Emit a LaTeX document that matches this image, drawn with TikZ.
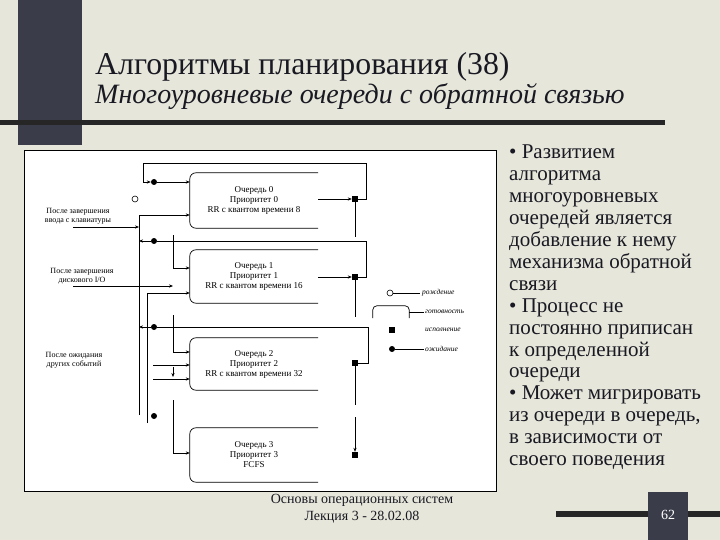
\documentclass[tikz,border=0pt]{standalone}
\usepackage{fontspec}
\setmainfont{Liberation Serif}
\newfontfamily\ttlfont{Liberation Serif}
\usetikzlibrary{arrows.meta}
\definecolor{bg}{RGB}{230,230,218}
\definecolor{barc}{RGB}{58,60,74}
\definecolor{ink}{RGB}{25,25,35}
\begin{document}
\begin{tikzpicture}[x=1pt,y=-1pt,
  ln/.style={draw=black,line width=0.7pt},
  arr/.style={ln,-{Stealth[length=4pt,width=3.2pt]}},
  sq/.style={fill=black,minimum size=6pt,inner sep=0pt},
  wdot/.style={circle,fill=black,minimum size=6pt,inner sep=0pt},
  qbox/.style={minimum width=128pt,inner sep=0pt,font=\fontsize{9}{10}\selectfont,align=center},
  qshape/.style={ln,rounded corners=6pt},
  lbl/.style={font=\fontsize{8}{9}\selectfont,align=center,inner sep=0pt},
  leg/.style={font=\itshape\fontsize{7.5}{8}\selectfont,anchor=west,inner sep=0pt},
]
\useasboundingbox (0,0) rectangle (720,540);
\fill[bg] (0,0) rectangle (720,540);
\fill[barc] (18,0) rectangle (82,145);
\fill[black!85] (0,120) rectangle (665,125);
\node[anchor=base west,font=\ttlfont\fontsize{31.8}{34}\selectfont,text=ink,inner sep=0pt] (title) at (95,75) {Алгоритмы планирования (38)};
\node[anchor=base west,font=\ttlfont\itshape\fontsize{28}{30}\selectfont,text=ink,inner sep=0pt] (sub) at (95,104) {Многоуровневые очереди с обратной связью};

% diagram frame
\draw[fill=white,line width=0.8pt] (24,150) rectangle (496,491);

% queues
\node[qbox,minimum height=55pt] (q0) at (254,200.5) {Очередь 0\\Приоритет 0\\RR с квантом времени 8};
\node[qbox,minimum height=53pt] (q1) at (254,276.5) {Очередь 1\\Приоритет 1\\RR с квантом времени 16};
\node[qbox,minimum height=52pt] (q2) at (254,364) {Очередь 2\\Приоритет 2\\RR с квантом времени 32};
\node[qbox,minimum height=54pt] (q3) at (254,455) {Очередь 3\\Приоритет 3\\FCFS};
\foreach \q in {q0,q1,q2,q3}
  \draw[qshape] (\q.north east) -- (\q.north west) -- (\q.south west) -- (\q.south east);

% execution squares and waiting dots
\node[sq] (x0) at (355,199) {};
\node[sq] (x1) at (355,277) {};
\node[sq] (x2) at (355,363) {};
\node[sq] (x3) at (355,455) {};
\node[wdot] (w0) at (154,182) {};
\node[wdot] (w1) at (154,241) {};
\node[wdot] (w2) at (154,327) {};
\node[wdot] (w3) at (154,416) {};
\node[circle,draw,line width=0.6pt,minimum size=6pt,inner sep=0pt] (born) at (135,199) {};

% labels
\node[lbl] (kb) at (78,216) {После завершения\\ввода с клавиатуры};
\node[lbl] (dk) at (82,276) {После завершения\\дискового I/O};
\node[lbl] (ot) at (74,360) {После ожидания\\других событий};

% buses
\coordinate (a0) at (139,215);
\coordinate (a1) at (139,415);
\coordinate (b0) at (147,293);
\coordinate (b1) at (147,423);
\draw[arr] (a1) -- (a0) -- (q0.west |- a0);
\draw[arr] (b1) -- (b0) -- (q1.west |- b0);
\coordinate (kbe) at (73,227);
\draw[arr] (kbe) -- (kbe -| a0);
\coordinate (dke) at (73,286);
\draw[arr] (dke) -- (173,286);

% queue 0 loop
\draw[arr] (q0.east |- x0) -- (x0.west);
\draw[ln] (x0.east) -- (366,199) -- (366,163) -- (143,163) -- (143,182);
\draw[arr] (143,182) -- (w0.west);
\draw[arr] (w0.east) -- (q0.west |- w0);
\draw[ln] (x0.south) -- (355,237);

% queue 1 loop
\draw[arr] (q1.east |- x1) -- (x1.west);
\draw[ln] (x1.east) -- (366,277) -- (366,241) -- (w1.east);
\draw[arr] (w1.west) -- (w1 -| a0);
\draw[ln] (x1.south) -- (355,317);
\draw[arr] (173,235) -- (173,268) -- (q1.west |- 173,268);

% queue 2 loop
\draw[ln] (x2.east) -- (368,363) -- (368,327) -- (w2.east);
\draw[arr] (w2.west) -- (w2 -| a0);
\draw[ln] (x2.south) -- (355,405);
\draw[arr] (173,315) -- (173,352) -- (q2.west |- 173,352);
\draw[arr] (153,365) -- (q2.west |- 153,365);
\draw[arr] (153,379) -- (q2.west |- 153,379);
\draw[arr] (173,367) -- (173,377);

% queue 3
\draw[arr] (173,400) -- (173,453) -- (q3.west |- 173,453);
\draw[arr] (355,417) -- (x3.north);

% legend
\node[circle,draw,line width=0.6pt,minimum size=6pt,inner sep=0pt] (lb) at (390,293) {};
\draw[ln] (lb.east) -- (420,293);
\node[leg] (lbt) at (422,293) {рождение};
\node[minimum width=36pt,minimum height=12pt,inner sep=0pt] (lr) at (391,312) {};
\draw[ln,rounded corners=4pt] (lr.south west) -- (lr.north west) -- (lr.north east) -- (lr.south east);
\draw[ln] (lr.east) -- (424,312);
\node[leg] (lrt) at (425,312) {готовность};
\node[sq] (ls) at (392,330) {};
\node[leg] (lst) at (425,330) {исполнение};
\node[wdot] (ld) at (392,349) {};
\draw[ln] (ld.east) -- (424,349);
\node[leg] (ldt) at (425,349) {ожидание};

% right text
\node[anchor=north west,align=left,font=\fontsize{21}{21.9}\selectfont,text=ink,inner sep=0pt] (txt) at (509,145) {%
• Развитием\\алгоритма\\многоуровневых\\очередей является\\добавление к нему\\механизма обратной\\связи\\%
• Процесс не\\постоянно приписан\\к определенной\\очереди\\%
• Может мигрировать\\из очереди в очередь,\\в зависимости от\\своего поведения};

% footer
\node[font=\fontsize{14}{17}\selectfont,align=center,text=ink,inner sep=0pt] (ft) at (362,509) {Основы операционных систем\\Лекция 3 - 28.02.08};
\fill[black!85] (556,511) rectangle (720,517);
\fill[barc] (648,492) rectangle (688,540);
\node[text=white,font=\fontsize{14}{16}\selectfont,inner sep=0pt] (pg) at (668,515) {62};
\end{tikzpicture}
\end{document}
